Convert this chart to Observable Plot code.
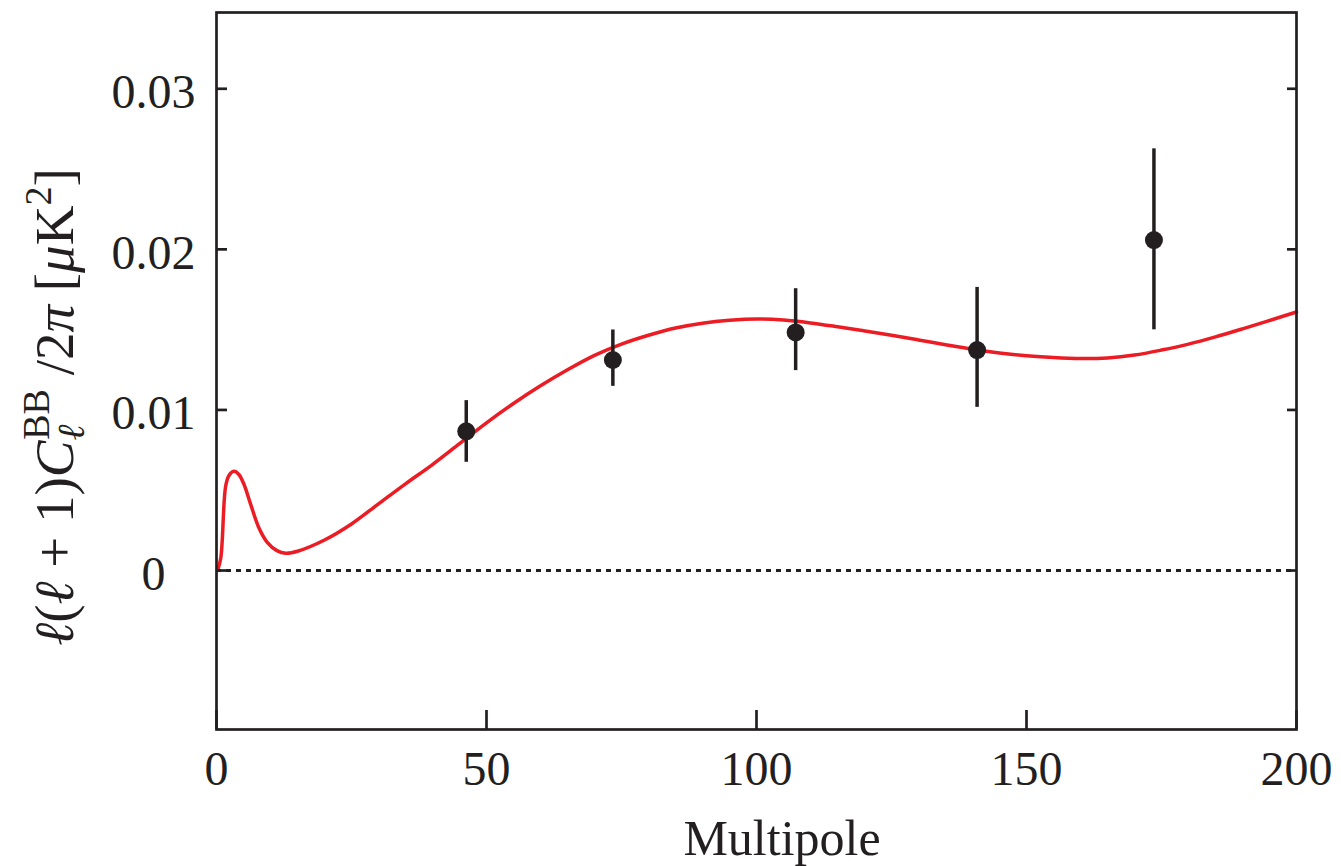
<!DOCTYPE html>
<html>
<head>
<meta charset="utf-8">
<script src="https://cdn.jsdelivr.net/npm/d3@7"></script>
<script src="https://cdn.jsdelivr.net/npm/@observablehq/plot@0.6"></script>
<style>
  html, body { margin: 0; padding: 0; background: #fff; }
  #chart { width: 1341px; height: 866px; }
</style>
</head>
<body>
<div id="chart"></div>
<script>
// Measured band powers (multipole, value, error bar low/high)
const dataEll  = [46.25, 73.4, 107.25, 140.85, 173.6];
const dataVal  = [0.00867, 0.01311, 0.01483, 0.01373, 0.02058];
const errLow   = [0.00674, 0.01147, 0.01245, 0.01016, 0.01499];
const errHigh  = [0.01058, 0.01498, 0.01755, 0.01763, 0.02626];

// Theory curve (red)
const theoryEll = [0.2, 0.8, 1.67, 2.28, 3.2, 4.1, 5.05, 6.3, 7.8, 9.4, 11.2, 12.8, 15, 20, 25, 30, 35, 40, 45, 50, 55, 60, 65, 70, 75, 80, 85, 90, 95, 100, 105, 110, 115, 120, 125, 130, 135, 140, 145, 150, 155, 160, 165, 170, 175, 180, 185, 190, 195, 200];
const theoryVal = [0, 0.0008, 0.0052, 0.0059, 0.00618, 0.0060, 0.0054, 0.00415, 0.0027, 0.00176, 0.00124, 0.00108, 0.0012, 0.0019, 0.0029, 0.00415, 0.0054, 0.0066, 0.0079, 0.0092, 0.0104, 0.0115, 0.0125, 0.0134, 0.0141, 0.01465, 0.0151, 0.0154, 0.01558, 0.01566, 0.0156, 0.01542, 0.01518, 0.01492, 0.01465, 0.01436, 0.01406, 0.01378, 0.01355, 0.01338, 0.01326, 0.0132, 0.01324, 0.01342, 0.01373, 0.0141, 0.01455, 0.01505, 0.01557, 0.0161];

const xTicks = [0, 50, 100, 150, 200];
const yTicks = [0, 0.01, 0.02, 0.03];
const yTickLabels = ["0", "0.01", "0.02", "0.03"];

const points = dataEll.map((l, i) => ({l, v: dataVal[i], lo: errLow[i], hi: errHigh[i]}));
const theory = theoryEll.map((l, i) => ({l, v: theoryVal[i]}));

const ink = "#231f20";
const red = "#ec1c24";
const font = "'Liberation Serif', 'Times New Roman', serif";

const svg = Plot.plot({
  width: 1341,
  height: 866,
  marginLeft: 216,
  marginRight: 45,
  marginTop: 12,
  marginBottom: 137,
  style: {fontFamily: font, fontSize: "48px", color: ink, background: "#fff"},
  x: {domain: [0, 200]},
  y: {domain: [-0.0099, 0.03475]},
  marks: [
    Plot.ruleY([0], {stroke: ink, strokeWidth: 3, strokeDasharray: "5,5"}),
    Plot.line(theory, {x: "l", y: "v", stroke: red, strokeWidth: 3.5, curve: "catmull-rom"}),
    Plot.ruleX(points, {x: "l", y1: "lo", y2: "hi", stroke: ink, strokeWidth: 3.5}),
    Plot.dot(points, {x: "l", y: "v", r: 9, fill: ink, stroke: "none"}),
    // inward ticks
    Plot.axisY(yTicks, {anchor: "left", tickSize: -11, tickFormat: () => "", strokeWidth: 2.7, stroke: ink, label: null}),
    Plot.axisY(yTicks, {anchor: "right", tickSize: -10, tickFormat: () => "", strokeWidth: 2.7, stroke: ink, label: null}),
    Plot.axisX(xTicks, {anchor: "bottom", tickSize: -19, tickFormat: () => "", strokeWidth: 2.7, stroke: ink, label: null}),
    // tick labels
    Plot.axisY(yTicks, {anchor: "left", tickSize: 0, tickPadding: 63, textAnchor: "middle", dy: 4,
      tickFormat: (d) => yTickLabels[yTicks.indexOf(d)], fill: ink, label: null}),
    Plot.axisX(xTicks, {anchor: "bottom", tickSize: 0, tickPadding: 21, tickFormat: (d) => String(d), fill: ink, label: null}),
    Plot.frame({stroke: ink, strokeWidth: 2.7})
  ]
});

document.getElementById("chart").appendChild(svg);

const s = d3.select(svg);
// x axis label
s.append("text")
  .attr("x", 782).attr("y", 855)
  .attr("text-anchor", "middle")
  .attr("font-family", font).attr("font-size", 50).attr("fill", ink)
  .text("Multipole");

// y axis label (rotated, with sub/superscripts)
const yl = s.append("text")
  .attr("transform", "translate(73,407) rotate(-90)")
  .attr("text-anchor", "middle")
  .attr("font-family", font).attr("font-size", 55).attr("fill", ink)
  .style("white-space", "pre");
const parts = [
  {t: "ℓ", it: true},
  {t: "("},
  {t: "ℓ", it: true},
  {t: " + 1)"},
  {t: "C", it: true},
  {t: "ℓ", it: true, fs: 38, dy: 11},
  {t: "BB", fs: 38, dx: -15, dy: -35},
  {t: " /2", dy: 24},
  {t: "π", it: true},
  {t: " ["},
  {t: "μ", it: true},
  {t: "K"},
  {t: "2", fs: 38, dy: -22},
  {t: "]", dy: 22}
];
for (const p of parts) {
  const ts = yl.append("tspan").text(p.t);
  if (p.it) ts.attr("font-style", "italic");
  if (p.fs) ts.attr("font-size", p.fs);
  if (p.dx) ts.attr("dx", p.dx);
  if (p.dy) ts.attr("dy", p.dy);
}
</script>
</body>
</html>
